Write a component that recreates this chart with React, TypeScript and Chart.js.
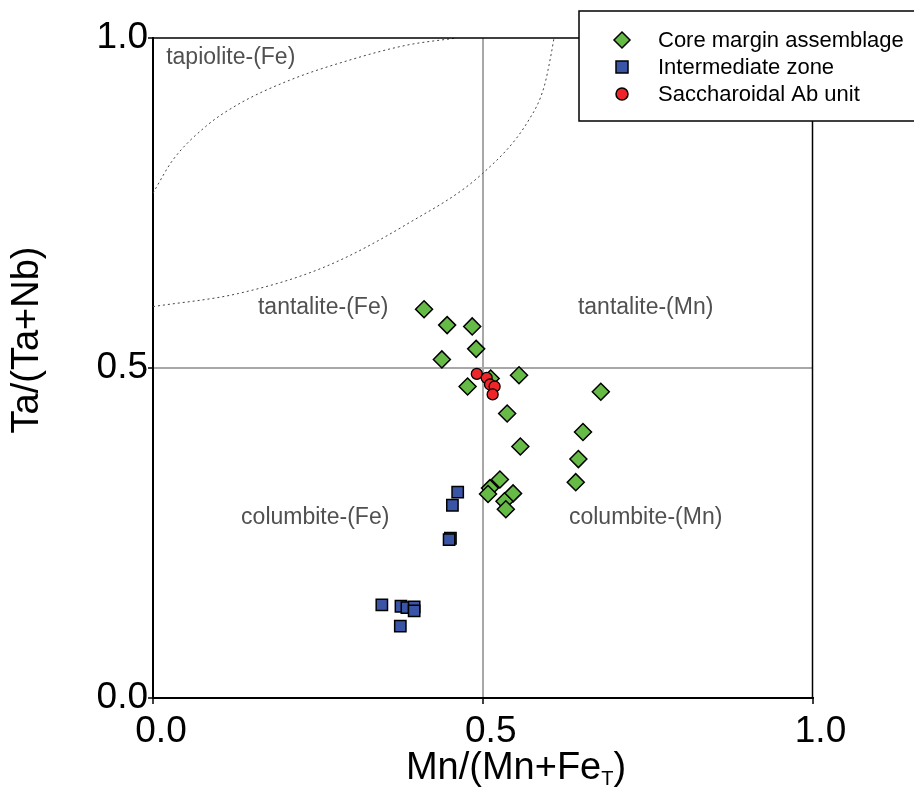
import React, { useEffect, useRef } from 'react';
import { Chart, registerables } from 'chart.js';

Chart.register(...registerables);

const FONT = '"Liberation Sans", Arial, Helvetica, sans-serif';

// ---- data ----
const coreMargin = [
  { x: 0.411, y: 0.589 }, { x: 0.446, y: 0.565 }, { x: 0.484, y: 0.563 },
  { x: 0.490, y: 0.529 }, { x: 0.438, y: 0.513 }, { x: 0.555, y: 0.489 },
  { x: 0.477, y: 0.472 }, { x: 0.512, y: 0.484 }, { x: 0.679, y: 0.464 },
  { x: 0.537, y: 0.431 }, { x: 0.652, y: 0.403 }, { x: 0.557, y: 0.381 },
  { x: 0.645, y: 0.362 }, { x: 0.641, y: 0.327 }, { x: 0.526, y: 0.331 },
  { x: 0.511, y: 0.318 }, { x: 0.508, y: 0.309 }, { x: 0.546, y: 0.310 },
  { x: 0.533, y: 0.298 }, { x: 0.535, y: 0.286 },
];
const intermediateZone = [
  { x: 0.462, y: 0.312 }, { x: 0.454, y: 0.292 }, { x: 0.451, y: 0.242 },
  { x: 0.449, y: 0.240 }, { x: 0.347, y: 0.141 }, { x: 0.376, y: 0.139 },
  { x: 0.385, y: 0.137 }, { x: 0.396, y: 0.138 }, { x: 0.396, y: 0.132 },
  { x: 0.375, y: 0.109 },
];
const saccharoidal = [
  { x: 0.491, y: 0.491 }, { x: 0.506, y: 0.485 }, { x: 0.511, y: 0.475 },
  { x: 0.518, y: 0.472 }, { x: 0.515, y: 0.460 },
];
const tapioliteLower = [
  { x: 0.0, y: 0.593 }, { x: 0.13, y: 0.613 }, { x: 0.26, y: 0.653 },
  { x: 0.385, y: 0.718 }, { x: 0.50, y: 0.795 }, { x: 0.57, y: 0.876 },
  { x: 0.593, y: 0.926 }, { x: 0.604, y: 0.977 }, { x: 0.608, y: 1.0 },
];
const tapioliteUpper = [
  { x: 0.0, y: 0.765 }, { x: 0.03, y: 0.815 }, { x: 0.08, y: 0.866 },
  { x: 0.13, y: 0.90 }, { x: 0.207, y: 0.936 }, { x: 0.283, y: 0.962 },
  { x: 0.384, y: 0.989 }, { x: 0.46, y: 1.0 },
];
const tickValues = [0, 0.5, 1.0];
const fieldLabels = [
  { text: 'tapiolite-(Fe)', x: 0.02, y: 0.970, align: 'left' },
  { text: 'tantalite-(Fe)', x: 0.258, y: 0.591, align: 'center' },
  { text: 'tantalite-(Mn)', x: 0.747, y: 0.591, align: 'center' },
  { text: 'columbite-(Fe)', x: 0.246, y: 0.273, align: 'center' },
  { text: 'columbite-(Mn)', x: 0.747, y: 0.273, align: 'center' },
];
const seriesNames = ['Core margin assemblage', 'Intermediate zone', 'Saccharoidal Ab unit'];
const seriesColors = ['#66bb46', '#3a55a6', '#ee2529'];
const seriesShapes = ['rectRot', 'rect', 'circle'];

function drawMarker(ctx: CanvasRenderingContext2D, shape: string, x: number, y: number, r: number) {
  ctx.beginPath();
  if (shape === 'rectRot') {
    ctx.moveTo(x, y - r); ctx.lineTo(x + r, y); ctx.lineTo(x, y + r); ctx.lineTo(x - r, y); ctx.closePath();
  } else if (shape === 'rect') {
    ctx.rect(x - r, y - r, 2 * r, 2 * r);
  } else {
    ctx.arc(x, y, r, 0, Math.PI * 2);
  }
  ctx.fill();
  ctx.stroke();
}

const decorPlugin = {
  id: 'decor',
  beforeDatasetsDraw(chart: any) {
    const { ctx, scales } = chart;
    const xs = scales.x, ys = scales.y;
    ctx.save();
    ctx.fillStyle = '#505050';
    ctx.font = `23px ${FONT}`;
    ctx.textBaseline = 'middle';
    fieldLabels.forEach((l) => {
      ctx.textAlign = l.align;
      ctx.fillText(l.text, xs.getPixelForValue(l.x), ys.getPixelForValue(l.y));
    });
    ctx.restore();
  },
  afterDraw(chart: any) {
    const { ctx, chartArea: a } = chart;
    ctx.save();
    // top and right frame
    ctx.strokeStyle = '#000';
    ctx.lineWidth = 1.5;
    ctx.beginPath();
    ctx.moveTo(a.left, a.top);
    ctx.lineTo(a.right, a.top);
    ctx.lineTo(a.right, a.bottom);
    ctx.stroke();

    // axis titles
    ctx.fillStyle = '#000';
    const big = `38px ${FONT}`;
    const small = `20px ${FONT}`;
    ctx.font = big;
    const main = 'Mn/(Mn+Fe';
    const sub = 'T';
    const close = ')';
    const wMain = ctx.measureText(main).width;
    const wClose = ctx.measureText(close).width;
    ctx.font = small;
    const wSub = ctx.measureText(sub).width;
    const total = wMain + wSub + wClose;
    const cx = 516;
    const x0 = cx - total / 2;
    const base = 779;
    ctx.textAlign = 'left';
    ctx.textBaseline = 'alphabetic';
    ctx.font = big;
    ctx.fillText(main, x0, base);
    ctx.font = small;
    ctx.fillText(sub, x0 + wMain, base + 6);
    ctx.font = big;
    ctx.fillText(close, x0 + wMain + wSub, base);
    // y title
    ctx.save();
    ctx.translate(28, 340);
    ctx.rotate(-Math.PI / 2);
    ctx.textAlign = 'center';
    ctx.textBaseline = 'middle';
    ctx.fillText('Ta/(Ta+Nb)', 0, 0);
    ctx.restore();

    // legend box
    const lx = 579, ly = 11, lw = 340, lh = 110;
    ctx.fillStyle = '#fff';
    ctx.fillRect(lx, ly, lw, lh);
    ctx.strokeStyle = '#000';
    ctx.lineWidth = 1.5;
    ctx.strokeRect(lx, ly, lw, lh);
    ctx.font = `22px ${FONT}`;
    ctx.textAlign = 'left';
    ctx.textBaseline = 'middle';
    const rows = [40, 67, 94];
    const radii = [8, 6, 6];
    seriesNames.forEach((name, i) => {
      ctx.fillStyle = seriesColors[i];
      ctx.strokeStyle = '#000';
      ctx.lineWidth = 1.5;
      drawMarker(ctx, seriesShapes[i], 622, rows[i], radii[i]);
      ctx.fillStyle = '#000';
      ctx.fillText(name, 658, rows[i] + 1);
    });
    ctx.restore();
  },
};

export default function App() {
  const canvasRef = useRef<HTMLCanvasElement | null>(null);

  useEffect(() => {
    const canvas = canvasRef.current;
    if (!canvas) return;
    const gridColor = (c: any) => (c.tick && Math.abs(c.tick.value - 0.5) < 1e-9 ? '#a8a8a8' : 'rgba(0,0,0,0)');
    const chart = new Chart(canvas, {
      type: 'scatter',
      data: {
        datasets: [
          {
            label: seriesNames[2], data: saccharoidal, order: 0,
            pointStyle: 'circle', pointRadius: 5.5, pointHoverRadius: 5.5,
            backgroundColor: seriesColors[2], borderColor: '#000', borderWidth: 1.3,
          },
          {
            label: seriesNames[0], data: coreMargin, order: 1,
            pointStyle: 'rectRot', pointRadius: 8.5, pointHoverRadius: 8.5,
            backgroundColor: seriesColors[0], borderColor: '#000', borderWidth: 1.5,
          },
          {
            label: seriesNames[1], data: intermediateZone, order: 2,
            pointStyle: 'rect', pointRadius: 8, pointHoverRadius: 8,
            backgroundColor: seriesColors[1], borderColor: '#000', borderWidth: 1.5,
          },
          {
            label: 'tapiolite lower', data: tapioliteLower, order: 3, showLine: true,
            pointRadius: 0, borderColor: '#444', borderWidth: 1, borderDash: [2, 3],
            cubicInterpolationMode: 'monotone', backgroundColor: 'rgba(0,0,0,0)',
          },
          {
            label: 'tapiolite upper', data: tapioliteUpper, order: 3, showLine: true,
            pointRadius: 0, borderColor: '#444', borderWidth: 1, borderDash: [2, 3],
            cubicInterpolationMode: 'monotone', backgroundColor: 'rgba(0,0,0,0)',
          },
        ] as any,
      },
      options: {
        responsive: false,
        animation: false,
        devicePixelRatio: 1,
        layout: { padding: { top: 38, right: 101.5, left: 0, bottom: 0 } },
        plugins: { legend: { display: false }, tooltip: { enabled: false }, title: { display: false } },
        scales: {
          x: {
            type: 'linear', min: 0, max: 1,
            afterBuildTicks: (s: any) => { s.ticks = tickValues.map((v) => ({ value: v })); },
            afterFit: (s: any) => { s.height = 95; },
            ticks: {
              font: { family: FONT, size: 37 }, color: '#000', padding: 6, labelOffset: 8,
              maxRotation: 0, callback: (v: any) => Number(v).toFixed(1),
            },
            grid: { color: gridColor, lineWidth: 2, tickColor: '#000', tickWidth: 1.5, tickLength: 6 },
            border: { display: true, color: '#000', width: 2 },
          },
          y: {
            type: 'linear', min: 0, max: 1,
            afterBuildTicks: (s: any) => { s.ticks = tickValues.map((v) => ({ value: v })); },
            afterFit: (s: any) => { s.width = 153; },
            ticks: {
              font: { family: FONT, size: 37 }, color: '#000', padding: 0,
              callback: (v: any) => Number(v).toFixed(1),
            },
            grid: { color: gridColor, lineWidth: 2, tickColor: '#000', tickWidth: 1.5, tickLength: 5 },
            border: { display: true, color: '#000', width: 2 },
          },
        },
      },
      plugins: [decorPlugin],
    } as any);
    return () => chart.destroy();
  }, []);

  return (
    <div style={{ position: 'absolute', left: 0, top: 0, width: 914, height: 793, background: '#fff' }}>
      <canvas ref={canvasRef} width={914} height={793} />
    </div>
  );
}
